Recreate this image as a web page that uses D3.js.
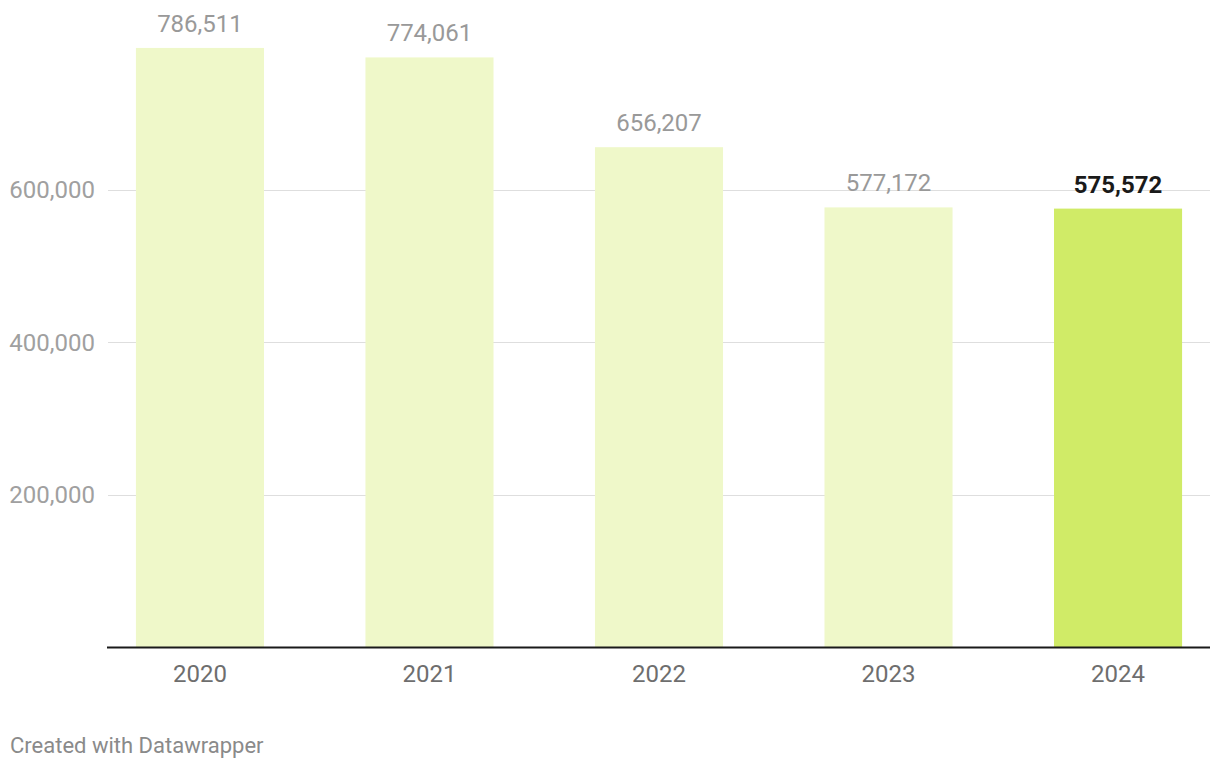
<!DOCTYPE html>
<html><head><meta charset="utf-8">
<script src="https://cdn.jsdelivr.net/npm/d3@7"></script>
<style>body{margin:0;background:#fff;font-family:Roboto,sans-serif}</style>
</head><body><svg id="c" width="1220" height="770"></svg>
<script>
const years = ["2020","2021","2022","2023","2024"];
const values = [786511, 774061, 656207, 577172, 575572];
const yTicks = [200000, 400000, 600000];
const highlight = "2024";

const svg = d3.select("#c");
const x = d3.scaleBand().domain(years).range([107, 1211]).paddingInner(0.442).paddingOuter(0.126);
const y = d3.scaleLinear().domain([0, 600000]).range([647, 190]);
const fmt = d3.format(",");

svg.append("g").selectAll("line").data(yTicks).join("line")
  .attr("x1", 108).attr("x2", 1210)
  .attr("y1", d => Math.round(y(d)) + 0.5).attr("y2", d => Math.round(y(d)) + 0.5)
  .attr("stroke", "#dedede").attr("stroke-width", 1);
svg.append("g").selectAll("text").data(yTicks).join("text")
  .attr("x", 95).attr("y", d => y(d)).attr("dy", "0.35em")
  .attr("text-anchor", "end").attr("fill", "#a0a0a0")
  .style("font-size", "24px").text(d => fmt(d));

const data = years.map((k, i) => ({k, v: values[i]}));
svg.append("g").selectAll("rect").data(data).join("rect")
  .attr("x", d => x(d.k)).attr("width", x.bandwidth())
  .attr("y", d => y(d.v)).attr("height", d => y(0) - y(d.v))
  .attr("fill", d => d.k === highlight ? "#d0eb67" : "#eff8c9");

svg.append("g").selectAll("text").data(data).join("text")
  .attr("x", d => x(d.k) + x.bandwidth()/2).attr("y", d => y(d.v) - 16)
  .attr("text-anchor", "middle")
  .attr("fill", d => d.k === highlight ? "#1a1a1a" : "#999999")
  .style("font-weight", d => d.k === highlight ? "700" : "400")
  .style("font-size", "24px").text(d => fmt(d.v));

svg.append("line").attr("x1", 107).attr("x2", 1210).attr("y1", 647.5).attr("y2", 647.5)
  .attr("stroke", "#1a1a1a").attr("stroke-width", 2);

svg.append("g").selectAll("text").data(years).join("text")
  .attr("x", d => x(d) + x.bandwidth()/2).attr("y", 682)
  .attr("text-anchor", "middle").attr("fill", "#6e6e6e")
  .style("font-size", "24px").text(d => d);

svg.append("text").attr("x", 10).attr("y", 753).attr("fill", "#8a8a8a")
  .style("font-size", "22px").text("Created with Datawrapper");
</script></body></html>
